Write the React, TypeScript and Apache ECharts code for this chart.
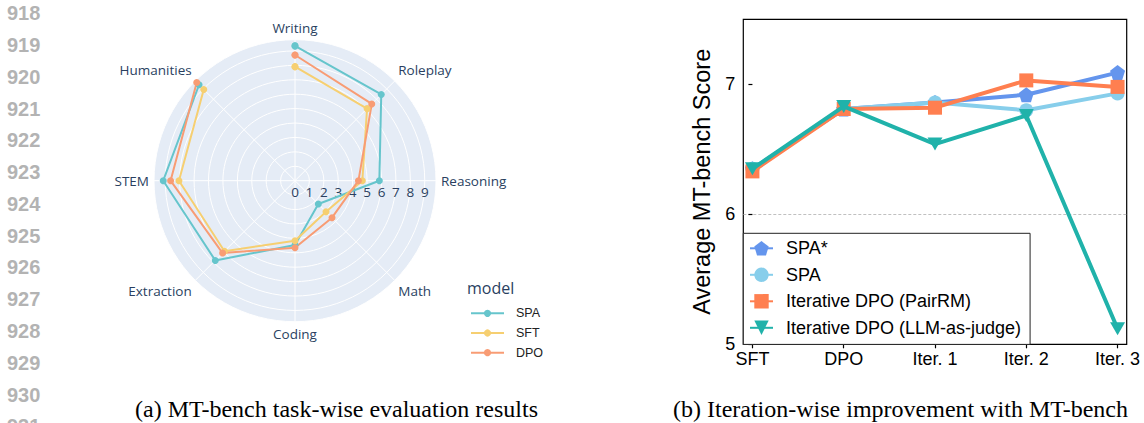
import React, { useEffect, useRef } from 'react';
import * as echarts from 'echarts';

// ---------- data: (a) radar ----------
const radarCategories = ['Writing', 'Roleplay', 'Reasoning', 'Math', 'Coding', 'Extraction', 'STEM', 'Humanities'];
const radarModels = ['SPA', 'SFT', 'DPO'];
const radarSPA = [9.35, 8.46, 5.85, 2.29, 4.46, 7.82, 9.14, 9.41];
const radarSFT = [7.91, 7.07, 4.67, 3.04, 4.16, 6.92, 8.05, 8.95];
const radarDPO = [8.72, 7.53, 4.4, 3.63, 4.65, 7.1, 8.63, 9.64];
const radarColors = ['rgb(102,197,204)', 'rgb(246,207,113)', 'rgb(248,156,116)'];
const radialMax = 9.78;

// ---------- data: (b) iterations ----------
const iterLabels = ['SFT', 'DPO', 'Iter. 1', 'Iter. 2', 'Iter. 3'];
const iterTicks = [0, 1, 2, 3, 4];
const scoreTicks = [5, 6, 7];
const lineNames = ['SPA*', 'SPA', 'Iterative DPO (PairRM)', 'Iterative DPO (LLM-as-judge)'];
const spaStarScores = [6.35, 6.81, 6.86, 6.92, 7.09];
const spaScores = [6.35, 6.81, 6.86, 6.8, 6.93];
const pairRMScores = [6.33, 6.81, 6.82, 7.03, 6.98];
const llmJudgeScores = [6.35, 6.83, 6.54, 6.76, 5.12];
const lineColors = ['#6495ED', '#87CEEB', '#FF7F50', '#20B2AA'];

const lineNumbers = ['918', '919', '920', '921', '922', '923', '924', '925', '926', '927', '928', '929', '930', '931'];
const captionA = '(a) MT-bench task-wise evaluation results';
const captionB = '(b) Iteration-wise improvement with MT-bench';

// ---------- layout ----------
const CX = 295;
const CY = 180.7;
const R = 141;
const SPOKE_STEP = 360 / radarCategories.length;
const PLOTLY_FONT = '"Open Sans", verdana, arial, sans-serif';
const SANS = '"Liberation Sans", Arial, Helvetica, sans-serif';
const SERIF = '"Liberation Serif", "Times New Roman", serif';

const pentagon = 'path://M0,-1L0.951,-0.309L0.588,0.809L-0.588,0.809L-0.951,-0.309Z';

function radarSeries(name: string, values: number[], color: string) {
  const data = values.map((v, i) => [v, i]);
  data.push([values[0], 0]);
  return {
    name,
    type: 'line',
    coordinateSystem: 'polar',
    polarIndex: 0,
    data,
    symbol: 'circle',
    symbolSize: 7,
    lineStyle: { width: 2, color },
    itemStyle: { color },
    z: 3,
  };
}

function leftOption(): any {
  return {
    animation: false,
    polar: [
      { center: [CX, CY], radius: R },
      { center: [CX, CY], radius: R },
      { center: [CX, CY], radius: R },
    ],
    angleAxis: [
      {
        polarIndex: 0, type: 'category', data: radarCategories, startAngle: 90, clockwise: true, boundaryGap: false,
        axisLine: { show: false }, axisTick: { show: false }, splitLine: { show: false }, splitArea: { show: false },
        axisLabel: { show: true, margin: 5, color: '#2a3f5f', fontSize: 13.5, fontFamily: PLOTLY_FONT },
        z: 0,
      },
      {
        polarIndex: 1, type: 'value', min: 0, max: 360, interval: SPOKE_STEP, startAngle: 90, clockwise: true,
        axisLine: { show: false }, axisTick: { show: false }, axisLabel: { show: false }, splitArea: { show: false },
        splitLine: { show: true, lineStyle: { color: '#ffffff', width: 1 } },
        z: 1,
      },
      {
        polarIndex: 2, type: 'value', min: 0, max: 360, startAngle: 0, show: false,
      },
    ],
    radiusAxis: [
      {
        polarIndex: 0, type: 'value', min: 0, max: radialMax, interval: 1,
        axisLine: { show: false }, axisTick: { show: false }, axisLabel: { show: false },
        splitLine: { show: false },
        splitArea: { show: true, areaStyle: { color: ['#E5ECF6'] } },
        z: 0,
      },
      {
        polarIndex: 1, type: 'value', min: 0, max: radialMax, interval: 1,
        axisLine: { show: false }, axisTick: { show: false }, axisLabel: { show: false },
        splitLine: { show: true, lineStyle: { color: '#ffffff', width: 1 } },
        splitArea: { show: false },
        z: 1,
      },
      {
        polarIndex: 2, type: 'value', min: 0, max: radialMax, interval: 1,
        axisLine: { show: false }, axisTick: { show: false },
        splitLine: { show: false }, splitArea: { show: false },
        axisLabel: {
          show: true, showMaxLabel: false, margin: -11, verticalAlign: 'middle',
          color: '#2a3f5f', fontSize: 13.5, fontFamily: PLOTLY_FONT,
        },
        z: 1,
      },
    ],
    legend: {
      data: radarModels,
      orient: 'vertical',
      left: 470,
      top: 306.3,
      padding: 0,
      itemWidth: 33,
      itemHeight: 9,
      itemGap: 5.7,
      textStyle: { fontSize: 12.5, lineHeight: 14, color: '#222', fontFamily: SANS, padding: [0, 0, 0, 7] },
    },
    series: [
      radarSeries(radarModels[0], radarSPA, radarColors[0]),
      radarSeries(radarModels[1], radarSFT, radarColors[1]),
      radarSeries(radarModels[2], radarDPO, radarColors[2]),
    ],
    graphic: [
      {
        type: 'text', left: 467, top: 280,
        style: { text: 'model', fontSize: 16, fontFamily: PLOTLY_FONT, fill: '#2a3f5f' },
      },
      {
        type: 'text', x: 135, y: 409,
        style: { text: captionA, fontSize: 24, fontFamily: SERIF, fill: '#000', verticalAlign: 'middle' },
      },
      ...lineNumbers.map((t, i) => ({
        type: 'text', x: 7, y: 13.3 + 31.77 * i,
        style: { text: t, fontSize: 20, fontWeight: 'bold', fontFamily: SANS, fill: '#b3b3b3', verticalAlign: 'middle' },
      })),
    ],
  };
}

function iterSeries(idx: number, values: number[], symbol: string, symbolSize: any, symbolRotate = 0) {
  const color = lineColors[idx];
  return {
    name: lineNames[idx],
    type: 'line',
    data: values.map((v, i) => [iterTicks[i], v]),
    symbol,
    symbolSize,
    symbolRotate,
    lineStyle: { width: 4, color },
    itemStyle: { color },
    z: 2 + idx * 0.1,
  };
}

function rightOption(): any {
  return {
    animation: false,
    grid: {
      left: 103.3, right: 17.3, top: 19.3, bottom: 78.7,
      show: true, borderColor: '#000', borderWidth: 1.2, backgroundColor: 'transparent',
    },
    xAxis: {
      type: 'value', min: -0.1, max: 4.1,
      axisLine: { show: false },
      splitLine: { show: false },
      axisTick: { show: true, customValues: iterTicks, length: 4, lineStyle: { color: '#000', width: 1.2 } },
      axisLabel: {
        customValues: iterTicks,
        formatter: (v: number) => iterLabels[Math.round(v)],
        fontSize: 18, color: '#000', fontFamily: SANS, margin: 6,
      },
    },
    yAxis: {
      type: 'value', min: 5, max: 7.5, interval: 1,
      axisLine: { show: false },
      axisTick: { show: true, customValues: scoreTicks, length: 4, lineStyle: { color: '#000', width: 1.2 } },
      axisLabel: { customValues: scoreTicks, fontSize: 18, color: '#000', fontFamily: SANS, margin: 8 },
      splitLine: {
        show: true, showMinLine: false, showMaxLine: false,
        lineStyle: { color: '#b0b0b0', width: 0.8, type: [3, 2] },
      },
      name: 'Average MT-bench Score',
      nameLocation: 'middle',
      nameGap: 27,
      nameTextStyle: { fontSize: 23.5, color: '#000', fontFamily: SANS },
    },
    legend: {
      data: lineNames,
      orient: 'vertical',
      left: 103.3,
      top: 233.3,
      padding: [6, 9, 7.6, 5.7],
      backgroundColor: '#fff',
      borderColor: '#222',
      borderWidth: 1,
      borderRadius: 0,
      itemWidth: 23,
      itemHeight: 18,
      itemGap: 8.5,
      textStyle: { fontSize: 18, lineHeight: 18, color: '#000', fontFamily: SANS, padding: [0, 0, 0, 8] },
    },
    series: [
      iterSeries(0, spaStarScores, pentagon, 15),
      iterSeries(1, spaScores, 'circle', 14),
      iterSeries(2, pairRMScores, 'rect', 14),
      iterSeries(3, llmJudgeScores, 'triangle', [15, 13], 180),
    ],
    graphic: [
      {
        type: 'text', x: 33, y: 409,
        style: { text: captionB, fontSize: 24, fontFamily: SERIF, fill: '#000', verticalAlign: 'middle' },
      },
    ],
  };
}

export default function App() {
  const leftRef = useRef<HTMLDivElement>(null);
  const rightRef = useRef<HTMLDivElement>(null);

  useEffect(() => {
    const left = echarts.init(leftRef.current!, undefined, { renderer: 'svg' });
    left.setOption(leftOption());
    const right = echarts.init(rightRef.current!, undefined, { renderer: 'svg' });
    right.setOption(rightOption());
    return () => {
      left.dispose();
      right.dispose();
    };
  }, []);

  return (
    <div style={{ position: 'absolute', left: 0, top: 0, width: 1144, height: 423, background: '#fff' }}>
      <div ref={leftRef} style={{ position: 'absolute', left: 0, top: 0, width: 640, height: 423 }} />
      <div ref={rightRef} style={{ position: 'absolute', left: 640, top: 0, width: 504, height: 423 }} />
    </div>
  );
}
